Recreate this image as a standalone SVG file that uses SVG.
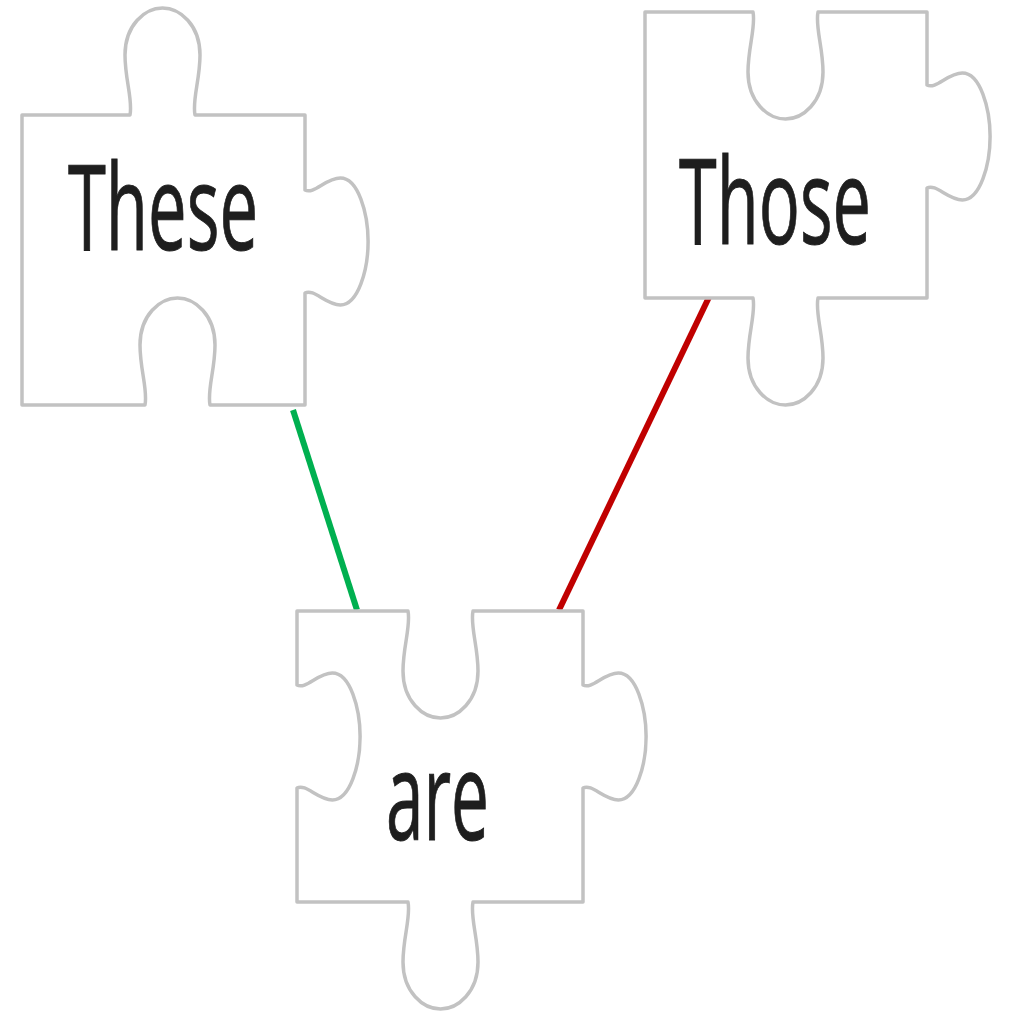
<svg xmlns="http://www.w3.org/2000/svg" width="1012" height="1015" viewBox="0 0 1012 1015">
<style>
.piece{fill:#ffffff;stroke:#c2c2c2;stroke-width:3.5;stroke-linejoin:round}
.lbl{font-family:"Open Sans","DejaVu Sans",sans-serif;fill:#1e1e1e;stroke:#1e1e1e;stroke-width:1}
.conn{stroke-width:6;fill:none;stroke-linecap:butt}
</style>
<rect width="1012" height="1015" fill="#ffffff"/>
<g id="connectors">
<line class="conn" x1="293" y1="410" x2="357" y2="610" stroke="#00b050"/>
<line class="conn" x1="711" y1="293" x2="559" y2="610" stroke="#c00000"/>
</g>
<g id="node-these">
<path class="piece" d="M22,115 H130 c3,-15 -5,-35 -5,-60 c0,-30 20,-47 37.5,-47 c17.5,0 37.5,17 37.5,47 c0,25 -8,45 -5,60 H305 V190 c8.9,4.8 20.7,-12 35.4,-12 c17.7,0 27.7,35 27.7,63.5 c0,28.5 -10,63.5 -27.7,63.5 c-14.7,0 -26.5,-16.8 -35.4,-12 V405 H210 c-3,-15 5,-35 5,-60 c0,-30 -20,-47 -37.5,-47 c-17.5,0 -37.5,17 -37.5,47 c0,25 8,45 5,60 H22 Z"/>
<text class="lbl" x="68" y="250" font-size="119" textLength="190" lengthAdjust="spacingAndGlyphs">These</text>
</g>
<g id="node-those">
<path class="piece" d="M645,12 H753 c3,15 -5,35 -5,60 c0,30 20,47 37.5,47 c17.5,0 37.5,-17 37.5,-47 c0,-25 -8,-45 -5,-60 H927 V85 c8.9,4.8 20.7,-12 35.4,-12 c17.7,0 27.7,35 27.7,63.5 c0,28.5 -10,63.5 -27.7,63.5 c-14.7,0 -26.5,-16.8 -35.4,-12 V298 H818 c-3,15 5,35 5,60 c0,30 -20,47 -37.5,47 c-17.5,0 -37.5,-17 -37.5,-47 c0,-25 8,-45 5,-60 H645 Z"/>
<text class="lbl" x="679" y="244" font-size="119" textLength="192" lengthAdjust="spacingAndGlyphs">Those</text>
</g>
<g id="node-are">
<path class="piece" d="M297,611 H408 c3,15 -5,35 -5,60 c0,30 20,47 37.5,47 c17.5,0 37.5,-17 37.5,-47 c0,-25 -8,-45 -5,-60 H583 V685 c8.9,4.8 20.7,-12 35.4,-12 c17.7,0 27.7,35 27.7,63.5 c0,28.5 -10,63.5 -27.7,63.5 c-14.7,0 -26.5,-16.8 -35.4,-12 V902 H473 c-3,15 5,35 5,60 c0,30 -20,47 -37.5,47 c-17.5,0 -37.5,-17 -37.5,-47 c0,-25 8,-45 5,-60 H297 V788 c8.9,-4.8 20.7,12 35.4,12 c17.7,0 27.7,-35 27.7,-63.5 c0,-28.5 -10,-63.5 -27.7,-63.5 c-14.7,0 -26.5,16.8 -35.4,12 Z"/>
<text class="lbl" x="386" y="840" font-size="123" textLength="103" lengthAdjust="spacingAndGlyphs">are</text>
</g>
</svg>
